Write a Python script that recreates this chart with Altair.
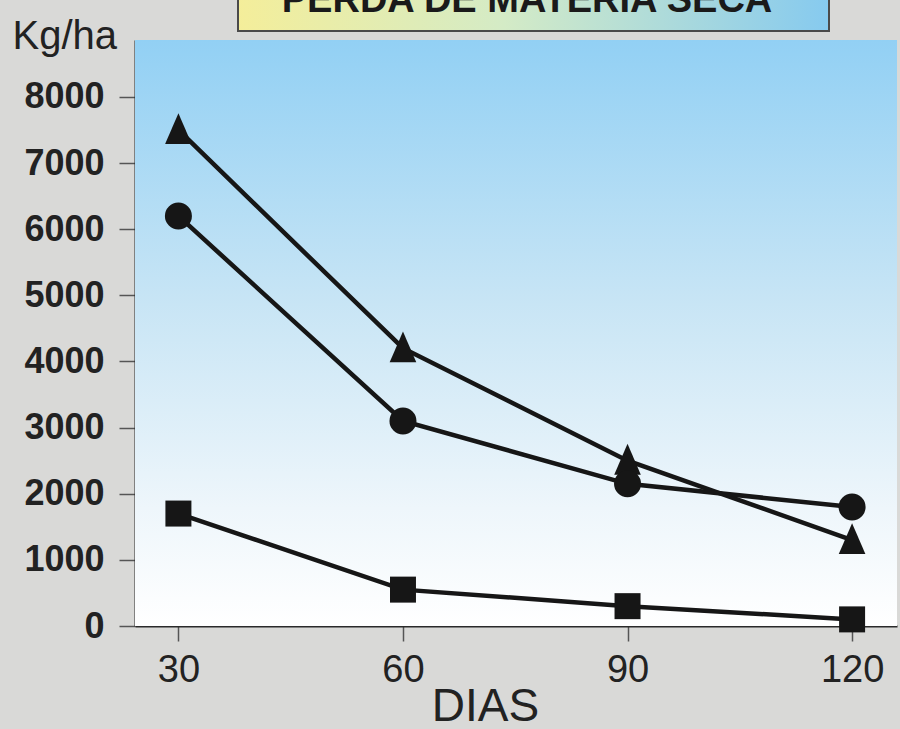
import altair as alt
import pandas as pd

# ---- data ----
dias = [30, 60, 90, 120]
serie_triangulo = [7500, 4200, 2500, 1300]
serie_circulo = [6200, 3100, 2150, 1800]
serie_quadrado = [1700, 550, 300, 100]
serie_nomes = ["Triângulo", "Círculo", "Quadrado"]
y_ticks = [0, 1000, 2000, 3000, 4000, 5000, 6000, 7000, 8000]
titulo = "PERDA DE MATÉRIA SECA"

rows = []
for nome, vals in zip(serie_nomes, [serie_triangulo, serie_circulo, serie_quadrado]):
    for d, v in zip(dias, vals):
        rows.append({"dias": d, "valor": v, "serie": nome})
df = pd.DataFrame(rows)
one = pd.DataFrame({"k": [0]})

W, H = 762, 586
FONT = "Liberation Sans"

x_enc = alt.X("dias:Q", scale=alt.Scale(domain=[24.2, 126], nice=False, zero=False),
              axis=alt.Axis(values=dias, title="DIAS", grid=False, format="d",
                            domainColor="#2a2a2a", domainWidth=2,
                            tickColor="#555555", tickWidth=1.5, tickSize=15,
                            labelFont=FONT, labelFontSize=38, labelColor="#222222",
                            labelPadding=10, labelFlush=False, labelOverlap=False,
                            titleFont=FONT, titleFontSize=46, titleFontWeight="normal",
                            titleColor="#222222", titleX=350, titleY=94,
                            titleAlign="center", titleBaseline="alphabetic"))
y_enc = alt.Y("valor:Q", scale=alt.Scale(domain=[0, 8860], nice=False),
              axis=alt.Axis(values=y_ticks, title="Kg/ha", grid=False, format="d",
                            domainColor="#2a2a2a", domainWidth=2,
                            tickColor="#555555", tickWidth=1.5, tickSize=16,
                            labelFont=FONT, labelFontSize=36, labelFontWeight="bold",
                            labelColor="#222222", labelPadding=15, labelOverlap=False,
                            labelFlush=False,
                            titleFont=FONT, titleFontSize=40, titleFontWeight="normal",
                            titleColor="#222222", titleAngle=0, titleX=-123, titleY=8,
                            titleAlign="left", titleBaseline="alphabetic"))

bg = alt.Chart(one).mark_rect(
    fill={"gradient": "linear", "x1": 0, "y1": 0, "x2": 0, "y2": 1,
          "stops": [{"offset": 0, "color": "#92d0f4"},
                    {"offset": 0.45, "color": "#c8e5f5"},
                    {"offset": 0.8, "color": "#eef6fb"},
                    {"offset": 1, "color": "#ffffff"}]}
).encode(x=alt.value(0), x2=alt.value(W), y=alt.value(0), y2=alt.value(H))

title_box = alt.Chart(one).mark_rect(
    fill={"gradient": "linear", "x1": 0, "y1": 0, "x2": 1, "y2": 0,
          "stops": [{"offset": 0, "color": "#f4ee9a"},
                    {"offset": 0.45, "color": "#d4ebc6"},
                    {"offset": 1, "color": "#86caef"}]},
    stroke="#4a4a4a", strokeWidth=2
).encode(x=alt.value(103), x2=alt.value(694), y=alt.value(-70), y2=alt.value(-9))

title_text = alt.Chart(one).mark_text(
    text=titulo, font=FONT, fontSize=38, fontWeight="bold", color="#1a1a1a",
    align="center", baseline="alphabetic"
).encode(x=alt.value(392), y=alt.value(-28))

lines = alt.Chart(df).mark_line(color="#161616", strokeWidth=4.5).encode(
    x=x_enc, y=y_enc, detail="serie:N")

points = alt.Chart(df).mark_point(filled=True, opacity=1, color="#161616").encode(
    x="dias:Q", y="valor:Q",
    shape=alt.Shape("serie:N", scale=alt.Scale(domain=serie_nomes,
                    range=["M0,-1.2L0.95,1L-0.95,1Z", "circle", "square"]), legend=None),
    size=alt.Size("serie:N", scale=alt.Scale(domain=serie_nomes, range=[784, 676, 900]),
                  legend=None))

chart = alt.layer(bg, title_box, title_text, lines, points).properties(
    width=W, height=H,
    autosize=alt.AutoSizeParams(type="none"),
    padding={"left": 135, "top": 40, "right": 3, "bottom": 103},
    background="#d9d9d7"
).configure_view(stroke=None)

chart.save("out.html", embed_options={"renderer": "svg", "actions": False})
